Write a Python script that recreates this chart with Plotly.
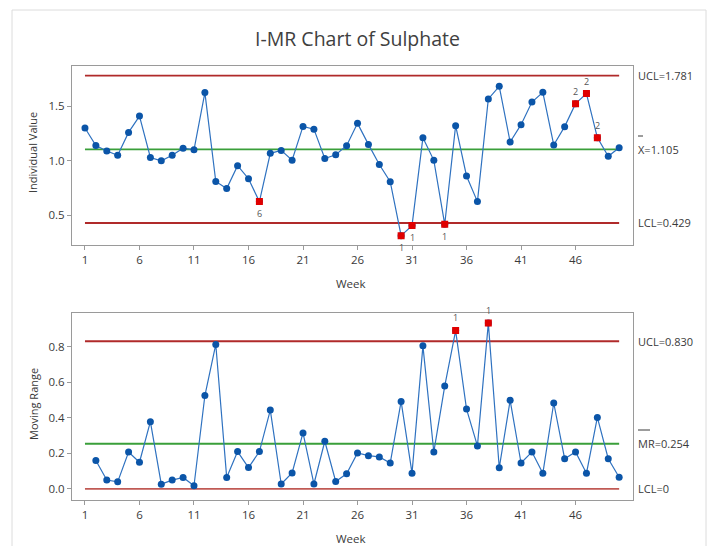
import plotly.graph_objects as go

# ---- data -------------------------------------------------------------
weeks = list(range(1, 51))

individual = [
    1.300, 1.140, 1.090, 1.050, 1.260, 1.410, 1.030, 1.000, 1.050, 1.115,
    1.100, 1.625, 0.810, 0.745, 0.955, 0.835, 0.625, 1.068, 1.095, 1.005,
    1.315, 1.290, 1.020, 1.055, 1.138, 1.343, 1.150, 0.965, 0.808, 0.313,
    0.405, 1.212, 1.004, 0.417, 1.322, 0.860, 0.625, 1.567, 1.683, 1.172,
    1.331, 1.539, 1.628, 1.145, 1.313, 1.524, 1.616, 1.212, 1.041, 1.120,
]

# moving range starts at week 2
mr_weeks = list(range(2, 51))
moving_range = [
    0.160, 0.050, 0.040, 0.208, 0.150, 0.378, 0.027, 0.050, 0.065,
    0.018, 0.525, 0.812, 0.065, 0.210, 0.120, 0.210, 0.443, 0.028, 0.090,
    0.315, 0.028, 0.268, 0.042, 0.085, 0.202, 0.187, 0.180, 0.146, 0.492,
    0.089, 0.804, 0.208, 0.578, 0.890, 0.449, 0.242, 0.932, 0.119, 0.498,
    0.146, 0.208, 0.088, 0.483, 0.170, 0.208, 0.088, 0.402, 0.170, 0.066,
]

i_ucl, i_center, i_lcl = 1.781, 1.105, 0.429
mr_ucl, mr_center, mr_lcl = 0.830, 0.254, 0.0

# out-of-control points with the test number shown beside them
i_flag_weeks = [17, 30, 31, 34, 46, 47, 48]
i_flag_tests = ["6", "1", "1", "1", "2", "2", "2"]
i_flag_above = [False, False, False, False, True, True, True]
mr_flag_weeks = [35, 38]
mr_flag_tests = ["1", "1"]

x_ticks = [1, 6, 11, 16, 21, 26, 31, 36, 41, 46]

# ---- styling ----------------------------------------------------------
W, H = 717, 546
FONT = "Open Sans, Noto Sans, sans-serif"
BLUE_LINE = "#2f72c0"
BLUE_DOT = "#0b55a8"
RED_PT = "#e00000"
RED_LIM = "#b02a2a"
RED_LCL0 = "#c05a55"
GREEN = "#3a9f3a"
TXT = "#3a3a3a"
AX = "#9a9a9a"


def px(x):
    return x / W


def py(y):
    return 1 - y / H


fig = go.Figure()

# ---- Individuals chart -------------------------------------------------
for val, col in [(i_ucl, RED_LIM), (i_center, GREEN), (i_lcl, RED_LIM)]:
    fig.add_trace(go.Scatter(x=[1, 50], y=[val, val], mode="lines",
                             line=dict(color=col, width=1.8),
                             xaxis="x", yaxis="y", hoverinfo="skip"))

fig.add_trace(go.Scatter(x=weeks, y=individual, mode="lines+markers",
                         line=dict(color=BLUE_LINE, width=1.2),
                         marker=dict(color=BLUE_DOT, size=7),
                         xaxis="x", yaxis="y"))

i_lookup = dict(zip(weeks, individual))
fig.add_trace(go.Scatter(x=i_flag_weeks, y=[i_lookup[w] for w in i_flag_weeks],
                         mode="markers",
                         marker=dict(color=RED_PT, size=7, symbol="square"),
                         xaxis="x", yaxis="y"))

# ---- Moving range chart -------------------------------------------------
for val, col in [(mr_ucl, RED_LIM), (mr_center, GREEN), (mr_lcl, RED_LCL0)]:
    fig.add_trace(go.Scatter(x=[1, 50], y=[val, val], mode="lines",
                             line=dict(color=col, width=1.8),
                             xaxis="x2", yaxis="y2", hoverinfo="skip"))

fig.add_trace(go.Scatter(x=mr_weeks, y=moving_range, mode="lines+markers",
                         line=dict(color=BLUE_LINE, width=1.2),
                         marker=dict(color=BLUE_DOT, size=7),
                         xaxis="x2", yaxis="y2"))

mr_lookup = dict(zip(mr_weeks, moving_range))
fig.add_trace(go.Scatter(x=mr_flag_weeks, y=[mr_lookup[w] for w in mr_flag_weeks],
                         mode="markers",
                         marker=dict(color=RED_PT, size=7, symbol="square"),
                         xaxis="x2", yaxis="y2"))

# ---- axes ---------------------------------------------------------------
x_dom = [px(72), px(633)]
axis_common = dict(showline=True, mirror=True, linecolor=AX, linewidth=1,
                   ticks="outside", ticklen=4, tickcolor=AX, showgrid=False,
                   zeroline=False, tickfont=dict(family=FONT, size=11.5, color=TXT))

fig.update_layout(
    xaxis=dict(domain=x_dom, anchor="y", range=[-0.19, 51.27],
               tickvals=x_ticks, **axis_common),
    yaxis=dict(domain=[py(245), py(65.7)], anchor="x", range=[0.227, 1.872],
               tickvals=[0.5, 1.0, 1.5], tickformat=".1f", **axis_common),
    xaxis2=dict(domain=x_dom, anchor="y2", range=[-0.19, 51.27],
                tickvals=x_ticks, **axis_common),
    yaxis2=dict(domain=[py(500), py(313.3)], anchor="x2", range=[-0.062, 0.987],
                tickvals=[0.0, 0.2, 0.4, 0.6, 0.8], tickformat=".1f", **axis_common),
)

# ---- text ---------------------------------------------------------------
ann = []


def label(text, x, y, size=12, color=TXT, xanchor="center", textangle=0, **kw):
    ann.append(dict(text=text, x=x, y=y, showarrow=False, xanchor=xanchor,
                    yanchor="middle", textangle=textangle,
                    font=dict(family=FONT, size=size, color=color), **kw))


label("I-MR Chart of Sulphate", px(357.5), py(39), size=19.5, color="#404040",
      xref="paper", yref="paper")
label("Individual Value", px(32), py(153), size=11, textangle=-90,
      xref="paper", yref="paper")
label("Moving Range", px(33), py(404), size=11, textangle=-90,
      xref="paper", yref="paper")
label("Week", px(351), py(283), size=11.5, xref="paper", yref="paper")
label("Week", px(351), py(538), size=11.5, xref="paper", yref="paper")

# control limit values to the right of each chart
lx = px(636)
label(f"UCL={i_ucl:.3f}", lx, i_ucl, size=11, xanchor="left", xref="paper", yref="y")
label(f"X={i_center:.3f}", lx, i_center, size=11, xanchor="left", xref="paper", yref="y")
label(f"LCL={i_lcl:.3f}", lx, i_lcl, size=11, xanchor="left", xref="paper", yref="y")
label(f"UCL={mr_ucl:.3f}", lx, mr_ucl, size=11, xanchor="left", xref="paper", yref="y2")
label(f"MR={mr_center:.3f}", lx, mr_center, size=11, xanchor="left", xref="paper", yref="y2")
label("LCL=0", lx, mr_lcl, size=11, xanchor="left", xref="paper", yref="y2")

# test numbers next to flagged points
for w, t, up in zip(i_flag_weeks, i_flag_tests, i_flag_above):
    label(t, w, i_lookup[w], size=9, color="#555555", xref="x", yref="y",
          yshift=12 if up else -12)
for w, t in zip(mr_flag_weeks, mr_flag_tests):
    label(t, w, mr_lookup[w], size=9, color="#555555", xref="x2", yref="y2",
          yshift=13)

# bars over X and MR, plus the light outer frame
shapes = [
    dict(type="line", xref="paper", yref="paper", x0=px(638), x1=px(643),
         y0=py(136), y1=py(136), line=dict(color=TXT, width=1)),
    dict(type="line", xref="paper", yref="paper", x0=px(638), x1=px(650),
         y0=py(430), y1=py(430), line=dict(color=TXT, width=1)),
    dict(type="line", xref="paper", yref="paper", x0=px(12), x1=px(12),
         y0=0, y1=py(10), line=dict(color="#dcdcdc", width=1)),
    dict(type="line", xref="paper", yref="paper", x0=px(706), x1=px(706),
         y0=0, y1=py(10), line=dict(color="#dcdcdc", width=1)),
    dict(type="line", xref="paper", yref="paper", x0=px(12), x1=px(706),
         y0=py(10), y1=py(10), line=dict(color="#dcdcdc", width=1)),
]

fig.update_layout(
    width=W, height=H, margin=dict(l=0, r=0, t=0, b=0),
    paper_bgcolor="white", plot_bgcolor="white",
    showlegend=False, annotations=ann, shapes=shapes, hovermode=False,
)

fig.write_html("out.html")
